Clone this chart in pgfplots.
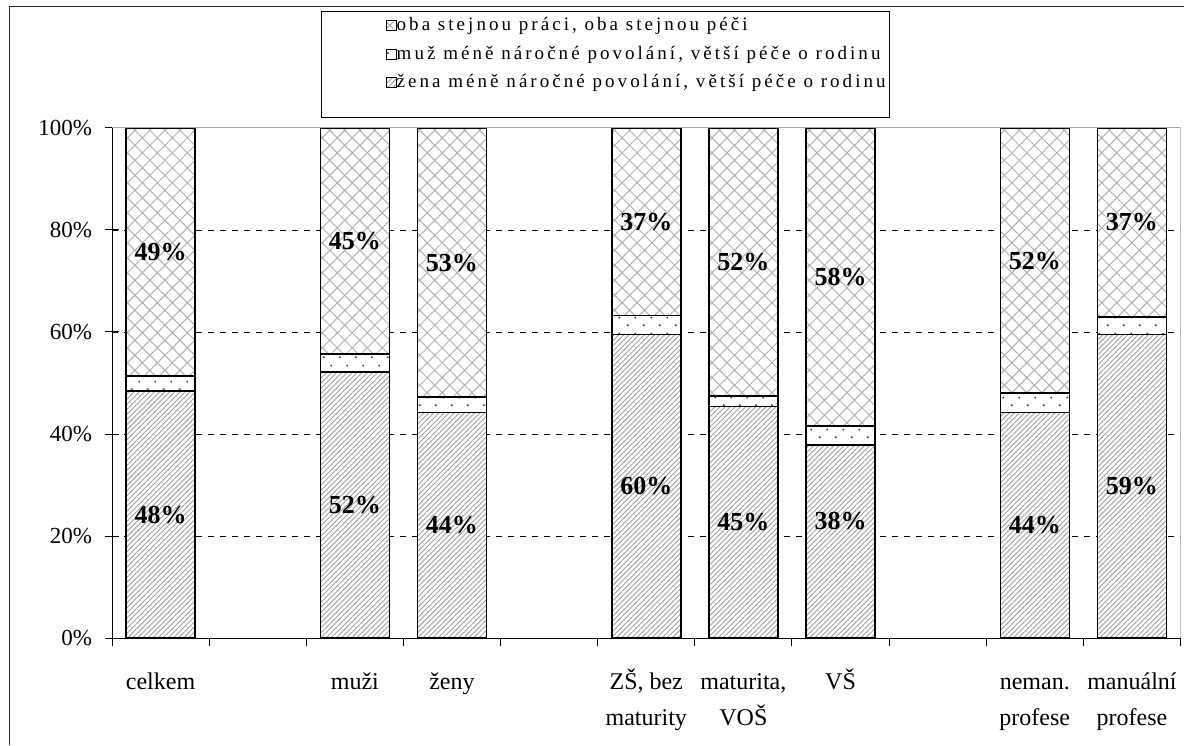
\documentclass[border=0pt]{standalone}
\usepackage{fontspec}
\setmainfont{Liberation Serif}
\newfontfamily\legfont[LetterSpace=16]{Liberation Serif}
\usepackage{pgfplots}
\pgfplotsset{compat=1.18}
\usetikzlibrary{patterns.meta}

% staggered dots like the Excel "dotted" fill
\pgfdeclarepattern{
  name=stagdots,
  type=uncolored,
  bottom left={\pgfpoint{0pt}{0pt}},
  top right={\pgfpoint{16pt}{16pt}},
  tile size={\pgfpoint{16pt}{16pt}},
  code={
    \pgfpathcircle{\pgfpoint{4pt}{4pt}}{1.1pt}
    \pgfpathcircle{\pgfpoint{12pt}{12pt}}{1.1pt}
    \pgfusepath{fill}
  }
}

\pgfplotstableread{
x  zena  muz  oba
0  48.4  3.0  48.6
2  52.2  3.5  44.3
3  44.2  3.1  52.7
5  59.5  3.7  36.8
6  45.4  2.1  52.5
7  37.8  3.8  58.4
9  44.2  3.8  52.0
10 59.5  3.4  37.1
}\podil

\pgfplotstableread{
x  y     lab
0  75.7  49
0  24.2  48
2  77.8  45
2  26.1  52
3  73.6  53
3  22.1  44
5  81.6  37
5  29.8  60
6  73.7  52
6  22.7  45
7  70.8  58
7  23.0  38
9  74.0  52
9  22.1  44
10 81.5  37
10 29.8  59
}\popisky

\begin{document}
\begin{tikzpicture}
\path[use as bounding box] (0,0) rectangle (1184pt,745pt);
\draw[line width=1pt, gray!30!black] (9pt,0) -- (9pt,738pt) -- (1184pt,738pt);

\begin{axis}[
  at={(112pt,107pt)}, anchor=south west,
  scale only axis, width=1068.5pt, height=510pt,
  ybar stacked, bar width=69pt,
  xmin=-0.5, xmax=10.5, ymin=0, ymax=100,
  axis x line*=bottom, axis y line*=left,
  axis line style={line width=1pt},
  tick style={black, line width=1pt},
  major tick length=15pt,
  /pgf/number format/assume math mode=true,
  ticklabel style={font=\fontsize{23}{27}\selectfont},
  ytick={0,20,...,100},
  yticklabel={\pgfmathprintnumber{\tick}\%},
  yticklabel style={xshift=-9pt},
  ytick align=center,
  xtick={0,2,3,5,6,7,9,10},
  xticklabels={celkem, muži, ženy, {ZŠ, bez\\maturity}, {maturita,\\VOŠ}, VŠ, {neman.\\profese}, {manuální\\profese}},
  typeset ticklabels with strut,
  xticklabel style={align=center, yshift=-23pt, font=\fontsize{24}{36}\selectfont},
  x tick style={draw=none},
  extra x ticks={-0.5,0.5,...,10.5},
  extra x tick labels={},
  extra x tick style={major tick length=8pt, tick align=outside, x tick style={draw=black}},
  extra y ticks={20,40,60,80},
  extra y tick labels={},
  extra y tick style={grid=major, major grid style={black, line width=0.8pt, dash pattern=on 6pt off 6pt}},
  legend image code/.code={\path (-62pt,0pt); \draw[#1, line width=0.8pt] (0pt,-5pt) rectangle (10pt,5pt);},
  reverse legend,
  legend cell align=left,
  legend style={at={(0.1956,1.2294)}, anchor=north west, draw=black, line width=1pt,
    font=\legfont\fontsize{19}{23}\selectfont, inner xsep=2pt, inner ysep=0pt,
    row sep=0pt, nodes={text height=15pt, text depth=5pt, inner ysep=4.25pt},
    /tikz/every even column/.append style={column sep=0pt},
    /tikz/every odd column/.append style={column sep=-2pt}},
]
\draw[gray!70, line width=1pt] (rel axis cs:0,1) -- (rel axis cs:1,1) -- (rel axis cs:1,0);
\addlegendimage{empty legend}
\addlegendentry[text height=12pt, text depth=0pt]{}

\addplot[draw=black, line width=1.6pt, fill=white,
  postaction={pattern color=gray!75, pattern={Lines[angle=45, distance=3.6pt, line width=0.9pt]}}]
  table[x=x, y=zena] {\podil};
\addlegendentry{žena méně náročné povolání, větší péče o rodinu}
\addplot[draw=black, line width=1.6pt, fill=white,
  postaction={pattern color=gray!40!black, pattern=stagdots}]
  table[x=x, y=muz] {\podil};
\addlegendentry{muž méně náročné povolání, větší péče o rodinu}
\addplot[draw=black, line width=1.6pt, fill=white,
  postaction={pattern color=gray!60, pattern={Hatch[angle=45, distance=10.6pt, line width=1pt]}}]
  table[x=x, y=oba] {\podil};
\addlegendentry{oba stejnou práci, oba stejnou péči}
\end{axis}

\begin{axis}[
  at={(112pt,107pt)}, anchor=south west,
  scale only axis, width=1068.5pt, height=510pt,
  xmin=-0.5, xmax=10.5, ymin=0, ymax=100,
  hide axis,
  point meta=explicit symbolic,
  nodes near coords={\pgfplotspointmeta\%},
  every node near coord/.append style={anchor=center, font=\bfseries\fontsize{26}{30}\selectfont},
]
\addplot[draw=none, mark=none] table[x=x, y=y, meta=lab] {\popisky};
\end{axis}
\end{tikzpicture}
\end{document}
